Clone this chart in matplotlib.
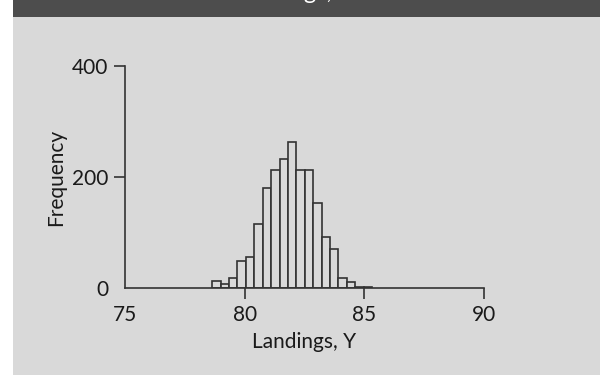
import matplotlib
matplotlib.use("Agg")
import matplotlib.pyplot as plt
from matplotlib.patches import Rectangle
import numpy as np

# Data
bin_start = 78.64
bin_width = 0.352
counts = [12, 7, 18, 49, 56, 115, 181, 213, 233, 263, 213, 213, 154, 91, 71, 18, 11, 2, 2]
x_ticks = [75, 80, 85, 90]
y_ticks = [0, 200, 400]
title = "Landings, Y"
xlabel = "Landings, Y"
ylabel = "Frequency"

plt.rcParams['font.family'] = ['Lato', 'DejaVu Sans']

W, H = 600, 375
fig = plt.figure(figsize=(6, 3.75), dpi=100)
fig.patch.set_facecolor('white')
bg = '#d9d9d9'
dark = '#4d4d4d'
# panel background
fig.patches.append(Rectangle((13 / W, 0), 1 - 13 / W, 1 - 17 / H, transform=fig.transFigure,
                             facecolor=bg, edgecolor='none', zorder=-10))
fig.patches.append(Rectangle((13 / W, 1 - 17 / H), 1 - 13 / W, 17 / H, transform=fig.transFigure,
                             facecolor=dark, edgecolor='none', zorder=-10))
fig.text(0.49, 1 + 1 / H, title, color='white', fontsize=17, ha='center', va='baseline')

ax = fig.add_axes([125 / W, 1 - 288 / H, (484 - 125) / W, (288 - 66) / H])
ax.set_facecolor('none')

edges = bin_start + bin_width * np.arange(len(counts) + 1)
ax.bar(edges[:-1], counts, width=bin_width, align='edge', facecolor='#d9d9d9',
       edgecolor='#333333', linewidth=1.2, zorder=2)

ax.set_xlim(75, 90)
ax.set_ylim(0, 400)
ax.set_xticks(x_ticks)
ax.set_yticks(y_ticks)
for s in ['top', 'right']:
    ax.spines[s].set_visible(False)
for s in ['left', 'bottom']:
    ax.spines[s].set_color('#333333')
    ax.spines[s].set_linewidth(1.2)
    ax.spines[s].set_zorder(3)
ax.tick_params(axis='both', direction='out', length=8, width=1.2, color='#333333',
               labelsize=15, labelcolor='#1a1a1a')
ax.tick_params(axis='x', pad=4)
ax.tick_params(axis='y', pad=4)
ax.xaxis.get_major_ticks()[0].tick1line.set_visible(False)
ax.yaxis.get_major_ticks()[0].tick1line.set_visible(False)
ax.set_xlabel(xlabel, fontsize=15, color='#1a1a1a', labelpad=5)
ax.set_ylabel(ylabel, fontsize=15, color='#1a1a1a', labelpad=4)

fig.savefig('out.png', dpi=100, facecolor='white')
